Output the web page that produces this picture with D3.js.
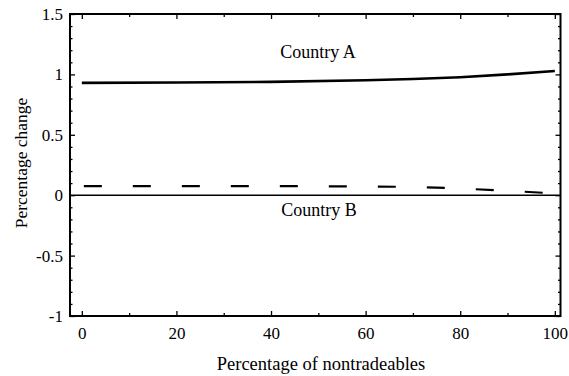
<!DOCTYPE html>
<html>
<head>
<meta charset="utf-8">
<script src="https://cdn.jsdelivr.net/npm/d3@7"></script>
<style>
  html, body { margin: 0; padding: 0; background: #fff; }
  svg { display: block; }
  svg text { font-family: 'Liberation Serif', 'Times New Roman', serif !important; fill: #000; }
</style>
</head>
<body>
<svg id="chart" width="569" height="376"></svg>
<script>
// ---- data ----
const xValues = [0, 20, 40, 60, 70, 80, 90, 100];
const countryA = [0.930, 0.933, 0.938, 0.952, 0.962, 0.977, 1.000, 1.028];
const countryB = [0.075, 0.075, 0.075, 0.073, 0.068, 0.056, 0.036, 0.015];
const zeroLine = [0, 0];
const zeroX = [-2.5, 101.2];
const xTicks = [0, 20, 40, 60, 80, 100];
const yTicks = [-1, -0.5, 0, 0.5, 1, 1.5];
const yTickLabels = ["-1", "-0.5", "0", "0.5", "1", "1.5"];
const xMinorTicks = [10, 30, 50, 70, 90];
const yMinorTicks = [-0.9,-0.8,-0.7,-0.6,-0.4,-0.3,-0.2,-0.1,0.1,0.2,0.3,0.4,0.6,0.7,0.8,0.9,1.1,1.2,1.3,1.4];
const labels = { x: "Percentage of nontradeables", y: "Percentage change", a: "Country A", b: "Country B" };

// ---- layout ----
const L = 70, R = 560.5, T = 14, B = 316;
const svg = d3.select("#chart");
const x = d3.scaleLinear().domain([-2.5, 101.2]).range([L, R]);
const y = d3.scaleLinear().domain([-1, 1.5]).range([B, T]);

// ticks (inside, all four sides)
const g = svg.append("g");
function addTicks(axisGen, tx, ty, vals, size) {
  const a = g.append("g").attr("transform", `translate(${tx},${ty})`)
    .call(axisGen.tickValues(vals).tickSize(size).tickFormat(""));
  a.select(".domain").remove();
  a.selectAll("line").attr("stroke", "#000").attr("stroke-width", 1.3);
}
addTicks(d3.axisTop(x), 0, B, xTicks, 5);
addTicks(d3.axisTop(x), 0, B, xMinorTicks, 3);
addTicks(d3.axisBottom(x), 0, T, xTicks, 5);
addTicks(d3.axisBottom(x), 0, T, xMinorTicks, 3);
addTicks(d3.axisRight(y), L, 0, yTicks, 5);
addTicks(d3.axisRight(y), L, 0, yMinorTicks, 2.5);
addTicks(d3.axisLeft(y), R, 0, yTicks, 5);
addTicks(d3.axisLeft(y), R, 0, yMinorTicks, 2.5);

// tick labels
const xl = g.append("g").attr("transform", `translate(0,${B})`)
  .call(d3.axisBottom(x).tickValues(xTicks).tickSize(0).tickPadding(11).tickFormat(d3.format("d")));
xl.select(".domain").remove();
xl.attr("font-family", "Liberation Serif").attr("font-size", 17);
const yl = g.append("g").attr("transform", `translate(${L},0)`)
  .call(d3.axisLeft(y).tickValues(yTicks).tickSize(0).tickPadding(7).tickFormat((d, i) => yTickLabels[i]));
yl.select(".domain").remove();
yl.attr("font-family", "Liberation Serif").attr("font-size", 17);

// frame
svg.append("rect").attr("x", L).attr("y", T).attr("width", R - L).attr("height", B - T)
  .attr("fill", "none").attr("stroke", "#000").attr("stroke-width", 2);

// lines
const line = d3.line().x(d => x(d[0])).y(d => y(d[1]));
svg.append("path").datum(zeroX.map((v, i) => [v, zeroLine[i]])).attr("d", line)
  .attr("fill", "none").attr("stroke", "#000").attr("stroke-width", 1.6);
svg.append("path").datum(xValues.map((v, i) => [v, countryA[i]])).attr("d", line)
  .attr("fill", "none").attr("stroke", "#000").attr("stroke-width", 2.6);
svg.append("path").datum(xValues.map((v, i) => [v, countryB[i]])).attr("d", line)
  .attr("fill", "none").attr("stroke", "#000").attr("stroke-width", 2.2)
  .attr("stroke-dasharray", "18,31").attr("stroke-dashoffset", "-2");

// annotations
svg.append("text").attr("x", 318).attr("y", 58).attr("text-anchor", "middle")
  .attr("font-size", 18).text(labels.a);
svg.append("text").attr("x", 319).attr("y", 216).attr("text-anchor", "middle")
  .attr("font-size", 18).text(labels.b);
svg.append("text").attr("x", 321).attr("y", 370).attr("text-anchor", "middle")
  .attr("font-size", 18.5).text(labels.x);
svg.append("text").attr("transform", "translate(27,163) rotate(-90)").attr("text-anchor", "middle")
  .attr("font-size", 17.5).text(labels.y);
</script>
</body>
</html>
